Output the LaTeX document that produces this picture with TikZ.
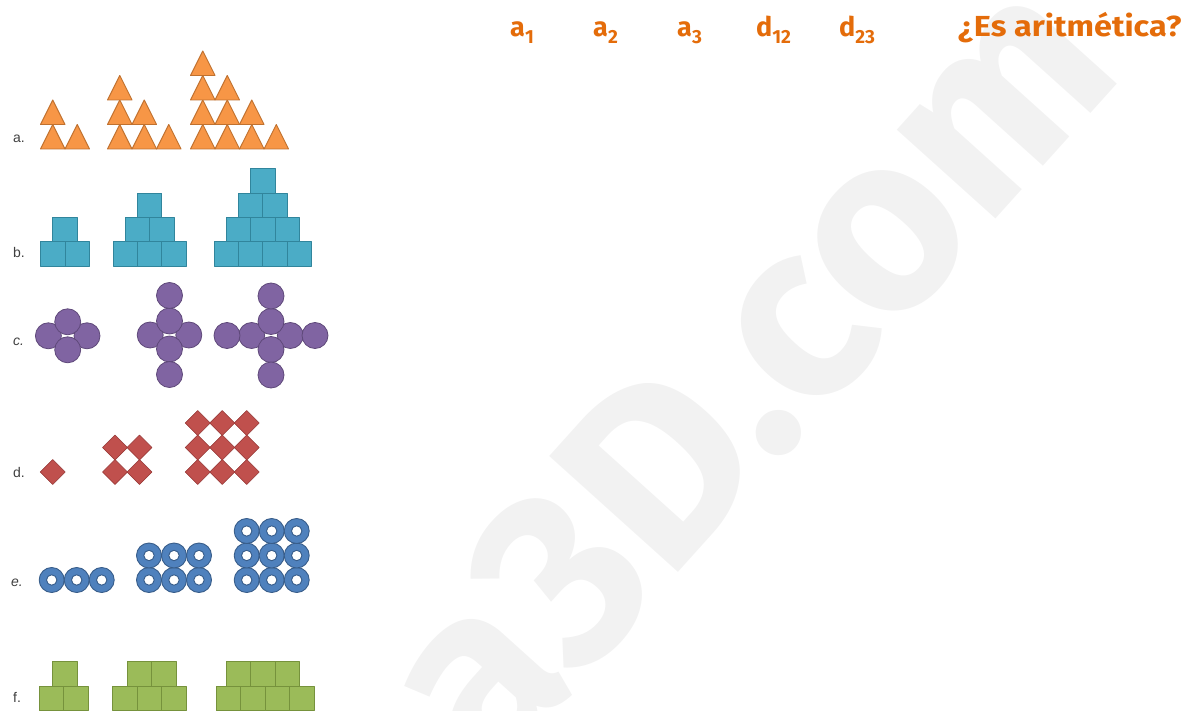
\documentclass[tikz,border=0pt]{standalone}
\usepackage{fontspec}
\newfontfamily\hdrfont{Fira Sans}
\newfontfamily\lblfont{Liberation Sans}
\definecolor{triorange}{HTML}{F79646}
\definecolor{triedge}{HTML}{C0712F}
\definecolor{sqblue}{HTML}{4BACC6}
\definecolor{sqblueedge}{HTML}{31859C}
\definecolor{dotpurple}{HTML}{8064A2}
\definecolor{dotedge}{HTML}{5F497A}
\definecolor{diared}{HTML}{C0504D}
\definecolor{diaedge}{HTML}{943634}
\definecolor{ringblue}{HTML}{4F81BD}
\definecolor{ringedge}{HTML}{385D8A}
\definecolor{sqgreen}{HTML}{9BBB59}
\definecolor{sqgreenedge}{HTML}{76923C}
\definecolor{hdrorange}{HTML}{E46C0A}
\definecolor{wmgray}{HTML}{F2F2F2}
\newcommand\hsub[1]{\raisebox{-7pt}{\fontsize{19}{19}\selectfont #1}}
\begin{document}
\begin{tikzpicture}[x=1pt, y=-1pt, line join=round,
  every node/.style={inner sep=0pt, anchor=base west},
  lbl/.style={font=\lblfont\fontsize{14}{14}\selectfont, text=black!75},
  hdr/.style={font=\hdrfont\bfseries\fontsize{27}{27}\selectfont, text=hdrorange},
  tri/.style={fill=triorange, draw=triedge, line width=0.9pt},
  sqb/.style={fill=sqblue, draw=sqblueedge, line width=0.9pt},
  dot/.style={fill=dotpurple, draw=dotedge, line width=0.8pt},
  dia/.style={fill=diared, draw=diaedge, line width=0.6pt},
  ring/.style={fill=ringblue, draw=ringedge, line width=0.9pt, even odd rule},
  sqg/.style={fill=sqgreen, draw=sqgreenedge, line width=0.9pt}]
  \useasboundingbox (0,0) rectangle (1182,711);
  \node[font=\hdrfont\bfseries\fontsize{250}{250}\selectfont, text=wmgray,
    rotate=48, anchor=center] (wm) at (745,372) {a3D.com};

  \node[hdr] (ha1) at (510,37) {a\hsub{1}};
  \node[hdr] (ha2) at (593,37) {a\hsub{2}};
  \node[hdr] (ha3) at (677,37) {a\hsub{3}};
  \node[hdr] (hd12) at (756,37) {d\hsub{12}};
  \node[hdr] (hd23) at (839,37) {d\hsub{23}};
  \node[hdr] (hq) at (958,37) {\scalebox{1.12}[1]{\fontsize{29}{29}\selectfont ¿Es aritmética?}};

  \node[lbl] (la) at (13,143) {a.};
  \node[lbl] (lb) at (13,258) {b.};
  \node[lbl] (lc) at (13,345) {\itshape c.};
  \node[lbl] (ld) at (13,477) {d.};
  \node[lbl] (le) at (11,586) {\itshape e.};
  \node[lbl] (lf) at (13,702) {f.};

  \foreach \xo/\n in {40.5/1,107.5/2,190.5/3} {
    \foreach \k in {0,...,\n} {
      \pgfmathtruncatemacro\m{\n-\k}
      \foreach \i in {0,...,\m}
        \draw[tri] ({\xo+\i*24.5},{149-\k*24.5}) -- ++(24.5,0) -- ++(-12.25,-24.5) -- cycle;
    }
  }

  \foreach \xo/\n in {40.7/1,113.3/2,214.3/3} {
    \foreach \k in {0,...,\n} {
      \pgfmathtruncatemacro\m{\n-\k}
      \foreach \i in {0,...,\m}
        \draw[sqb] ({\xo+\k*12.15+\i*24.3},{266-\k*24.3}) rectangle ++(24.3,-24.3);
    }
  }

  \foreach \cx/\cy/\v/\h in {67.7/335.8/0/0,169.5/335/1/0,271/335.5/1/1} {
    \foreach \dx/\dy in {-19.3/0,19.3/0,0/-14,0/14}
      \draw[dot] (\cx+\dx,\cy+\dy) circle (13);
    \ifnum\v=1
      \draw[dot] (\cx,\cy-39.5) circle (13);
      \draw[dot] (\cx,\cy+39.5) circle (13);
    \fi
    \ifnum\h=1
      \draw[dot] (\cx-44,\cy) circle (13);
      \draw[dot] (\cx+44,\cy) circle (13);
    \fi
  }

  \foreach \xo/\n in {52.7/1,115/2,197.7/3} {
    \foreach \i in {1,...,\n}
      \foreach \j in {1,...,\n}
        \draw[dia] ({\xo+(\i-1)*24.5-12.5},{472-(\j-1)*24.5}) -- ++(12.5,-12.5)
          -- ++(12.5,12.5) -- ++(-12.5,12.5) -- cycle;
  }

  \foreach \xo/\n in {51.7/1,149/2,246.7/3} {
    \foreach \i in {0,1,2}
      \foreach \j in {1,...,\n}
        \draw[ring] ({\xo+\i*25},{580-(\j-1)*24.5}) circle (12.5)
          ({\xo+\i*25},{580-(\j-1)*24.5}) circle (5.2);
  }

  \foreach \xo/\n/\dx in {39/1/13.5,112.7/2/14.5,216/3/10} {
    \foreach \i in {0,...,\n}
      \draw[sqg] ({\xo+\i*24.5},710.5) rectangle ++(24.5,-24.5);
    \pgfmathtruncatemacro\m{\n-1}
    \foreach \i in {0,...,\m}
      \draw[sqg] ({\xo+\dx+\i*24.5},686) rectangle ++(24.5,-24.5);
  }
\end{tikzpicture}
\end{document}
